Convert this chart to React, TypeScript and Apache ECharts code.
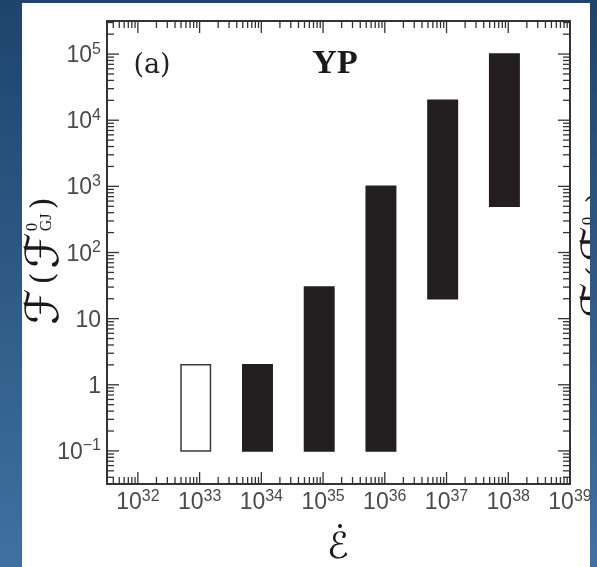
import { useEffect, useRef } from 'react';
import * as echarts from 'echarts';

const W = 597;
const H = 567;

// axis extents (log10 of the ends: 31.5..39 and -1.5..5.5)
const X_MIN = Math.pow(10, 31.5);
const X_MAX = 1e39;
const Y_MIN = Math.pow(10, -1.5);
const Y_MAX = Math.pow(10, 5.5);

// decades that carry a labelled major tick
const xTickExps = [32, 33, 34, 35, 36, 37, 38, 39];
const yTickExps = [-1, 0, 1, 2, 3, 4, 5];

// data: each bar spans 0.5x..1.5x of its centre in Ė, and low..high in ℱ
const barCenters = [1e33, 1e34, 1e35, 1e36, 1e37, 1e38];
const barLows = [0.1, 0.1, 0.1, 0.1, 20, 500];
const barHighs = [2, 2, 30, 1000, 20000, 100000];
const barFilled = [0, 1, 1, 1, 1, 1];

const panelLabel = '(a)';
const panelTitle = 'YP';

const BAR_LEFT = 0.5;
const BAR_RIGHT = 1.5;

const LABEL_COLOR = '#4a4a4a';
const FRAME_COLOR = '#333333';
const MAJOR_LEN = 12;
const MINOR_LEN = 7;
const LABEL_FONT = '"Liberation Sans Narrow", "Liberation Sans", Arial, sans-serif';

function minorTicks(lo: number, hi: number, from: number, to: number): number[] {
  const out: number[] = [];
  for (let n = from; n <= to; n++) {
    for (let k = 2; k <= 9; k++) {
      const v = k * Math.pow(10, n);
      if (v > lo && v < hi) out.push(v);
    }
  }
  return out;
}

const xMinor = minorTicks(X_MIN, X_MAX, 31, 38);
const yMinor = minorTicks(Y_MIN, Y_MAX, -2, 5);
const xMajor = xTickExps.map((e) => Math.pow(10, e));
const yMajor = yTickExps.map((e) => Math.pow(10, e));

function expOf(v: number): number | null {
  const e = Math.log10(v);
  const r = Math.round(e);
  if (Math.abs(e - r) > 1e-4) return null;
  return r;
}

function fmtPow(v: number): string {
  const e = expOf(v);
  if (e === null) return '';
  if (e === 0) return '{b|1}';
  if (e === 1) return '{b|10}';
  const s = e < 0 ? '\u2212' + String(-e) : String(e);
  return '{b|10}{s|' + s + '}';
}

const rich = {
  b: {
    fontSize: 23,
    fontFamily: LABEL_FONT,
    color: LABEL_COLOR,
    lineHeight: 28,
    verticalAlign: 'middle',
  },
  s: {
    fontSize: 16,
    fontFamily: LABEL_FONT,
    color: LABEL_COLOR,
    lineHeight: 14,
    verticalAlign: 'top',
  },
};

function measure(text: string, font: string): number {
  const c = document.createElement('canvas').getContext('2d');
  if (!c) return text.length * 12;
  c.font = font;
  return c.measureText(text).width;
}

function yTitle(cx: number, cy: number, z: number) {
  const mainFamily = '"DejaVu Serif", "DejaVu Sans", serif';
  const subFamily = '"Liberation Serif", "Times New Roman", serif';
  const fSize = 46;
  const pSize = 31;
  const supSize = 17;
  const subSize = 16;
  const gap = 4;
  const wF = measure('\u2131', `${fSize}px ${mainFamily}`);
  const wOpen = measure('(', `${pSize}px ${mainFamily}`);
  const wClose = measure(')', `${pSize}px ${mainFamily}`);
  const wSup = measure('0', `${supSize}px ${subFamily}`);
  const wSub = measure('GJ', `${subSize}px ${subFamily}`);
  const x1 = wF + gap;
  const x2 = x1 + wOpen + gap;
  const x3 = x2 + wF + 1;
  const x4 = x3 + Math.max(wSup, wSub) + gap;
  const L = x4 + wClose;
  const base = { fill: '#1a1a1a', align: 'left', verticalAlign: 'middle' };
  return {
    type: 'group',
    x: cx,
    y: cy + L / 2,
    rotation: Math.PI / 2,
    z,
    children: [
      { type: 'text', x: 0, y: 0, z, style: { ...base, text: '\u2131', fontSize: fSize, fontFamily: mainFamily } },
      { type: 'text', x: x1, y: 0, z, style: { ...base, text: '(', fontSize: pSize, fontFamily: mainFamily } },
      { type: 'text', x: x2, y: 0, z, style: { ...base, text: '\u2131', fontSize: fSize, fontFamily: mainFamily } },
      { type: 'text', x: x3, y: -11, z, style: { ...base, text: '0', fontSize: supSize, fontFamily: subFamily } },
      { type: 'text', x: x3, y: 3, z, style: { ...base, text: 'GJ', fontSize: subSize, fontFamily: subFamily } },
      { type: 'text', x: x4, y: 0, z, style: { ...base, text: ')', fontSize: pSize, fontFamily: mainFamily } },
    ],
  };
}

function bgGradient() {
  return new echarts.graphic.LinearGradient(0, 0, 0, 1, [
    { offset: 0, color: '#1f446c' },
    { offset: 1, color: '#3f70a0' },
  ]);
}

function tickLine(x1: number, y1: number, x2: number, y2: number) {
  return { type: 'line', shape: { x1, y1, x2, y2 }, style: { stroke: FRAME_COLOR, lineWidth: 1.3 } };
}

function xTickSeries(name: string, values: number[], len: number) {
  return {
    type: 'custom',
    name,
    xAxisIndex: 0,
    yAxisIndex: 0,
    silent: true,
    encode: { x: 0, y: 1 },
    data: values.map((v) => [v, 1]),
    renderItem: (_p: any, api: any) => {
      const v = api.value(0);
      const b = api.coord([v, Y_MIN]);
      const t = api.coord([v, Y_MAX]);
      return {
        type: 'group',
        children: [tickLine(b[0], b[1], b[0], b[1] - len), tickLine(t[0], t[1], t[0], t[1] + len)],
      };
    },
  };
}

function yTickSeries(name: string, values: number[], len: number) {
  return {
    type: 'custom',
    name,
    xAxisIndex: 0,
    yAxisIndex: 0,
    silent: true,
    encode: { x: 0, y: 1 },
    data: values.map((v) => [1e35, v]),
    renderItem: (_p: any, api: any) => {
      const v = api.value(1);
      const l = api.coord([X_MIN, v]);
      const r = api.coord([X_MAX, v]);
      return {
        type: 'group',
        children: [tickLine(l[0], l[1], l[0] + len, l[1]), tickLine(r[0], r[1], r[0] - len, r[1])],
      };
    },
  };
}

export default function App() {
  const ref = useRef<HTMLDivElement>(null);

  useEffect(() => {
    const el = ref.current;
    if (!el) return;
    const chart = echarts.init(el, null, { renderer: 'svg' });

    const lineStyle = { color: FRAME_COLOR, width: 2 };

    const xBase = {
      type: 'log',
      logBase: 10,
      min: X_MIN,
      max: X_MAX,
      interval: 0.5,
      splitLine: { show: false },
      axisLine: { show: true, onZero: false, lineStyle },
      axisTick: { show: false },
    };
    const yBase = {
      type: 'log',
      logBase: 10,
      min: Y_MIN,
      max: Y_MAX,
      interval: 0.5,
      splitLine: { show: false },
      axisLine: { show: true, onZero: false, lineStyle },
      axisTick: { show: false },
    };

    const option = {
      animation: false,
      grid: { left: 107, top: 21, right: W - 570, bottom: H - 484, containLabel: false },
      xAxis: [
        {
          ...xBase,
          position: 'bottom',
          axisLabel: { show: true, margin: 3, formatter: (v: number) => fmtPow(v), rich },
        },
        { ...xBase, position: 'top', axisLabel: { show: false } },
      ],
      yAxis: [
        {
          ...yBase,
          position: 'left',
          axisLabel: { show: true, margin: 6, formatter: (v: number) => fmtPow(v), rich },
        },
        { ...yBase, position: 'right', axisLabel: { show: false } },
      ],
      series: [
        {
          type: 'custom',
          name: 'bars',
          xAxisIndex: 0,
          yAxisIndex: 0,
          encode: { x: 0, y: [1, 2] },
          data: barCenters.map((c, i) => [c, barLows[i], barHighs[i], barFilled[i]]),
          renderItem: (_p: any, api: any) => {
            const c = api.value(0);
            const lo = api.value(1);
            const hi = api.value(2);
            const filled = api.value(3);
            const p0 = api.coord([c * BAR_LEFT, lo]);
            const p1 = api.coord([c * BAR_RIGHT, hi]);
            return {
              type: 'rect',
              shape: { x: p0[0], y: p1[1], width: p1[0] - p0[0], height: p0[1] - p1[1] },
              style: {
                fill: filled ? '#231f20' : '#ffffff',
                stroke: filled ? '#231f20' : '#3a3a3a',
                lineWidth: 1.5,
              },
            };
          },
        },
        xTickSeries('xmajor', xMajor, MAJOR_LEN),
        xTickSeries('xminor', xMinor, MINOR_LEN),
        yTickSeries('ymajor', yMajor, MAJOR_LEN),
        yTickSeries('yminor', yMinor, MINOR_LEN),
      ],
      graphic: {
        elements: [
          { type: 'rect', z: -100, silent: true, shape: { x: 0, y: 0, width: W, height: H }, style: { fill: bgGradient() } },
          { type: 'rect', z: -99, silent: true, shape: { x: 22, y: 3, width: 568, height: H - 3 }, style: { fill: '#ffffff' } },
          {
            type: 'text', x: 152, y: 63, z: 10,
            style: { text: panelLabel, fontSize: 27, fontFamily: '"DejaVu Serif", serif', fill: '#222222', align: 'center', verticalAlign: 'middle' },
          },
          {
            type: 'text', x: 335, y: 61, z: 10,
            style: { text: panelTitle, fontSize: 34, fontWeight: 'bold', fontFamily: '"Liberation Serif", "Times New Roman", serif', fill: '#1a1a1a', align: 'center', verticalAlign: 'middle' },
          },
          yTitle(42, 261, 10),
          {
            type: 'text', x: 338, y: 545, z: 10,
            style: { text: '\u2130', fontSize: 36, fontFamily: '"DejaVu Serif", "DejaVu Sans", serif', fill: '#1a1a1a', align: 'center', verticalAlign: 'middle' },
          },
          { type: 'circle', z: 10, shape: { cx: 340, cy: 526, r: 2 }, style: { fill: '#1a1a1a' } },
          yTitle(598, 255, 40),
          { type: 'rect', z: 100, silent: true, shape: { x: 590, y: 0, width: W - 590, height: H }, style: { fill: bgGradient() } },
        ],
      },
    };

    chart.setOption(option as any);
    return () => chart.dispose();
  }, []);

  return <div ref={ref} style={{ position: 'fixed', left: 0, top: 0, width: W, height: H }} />;
}
